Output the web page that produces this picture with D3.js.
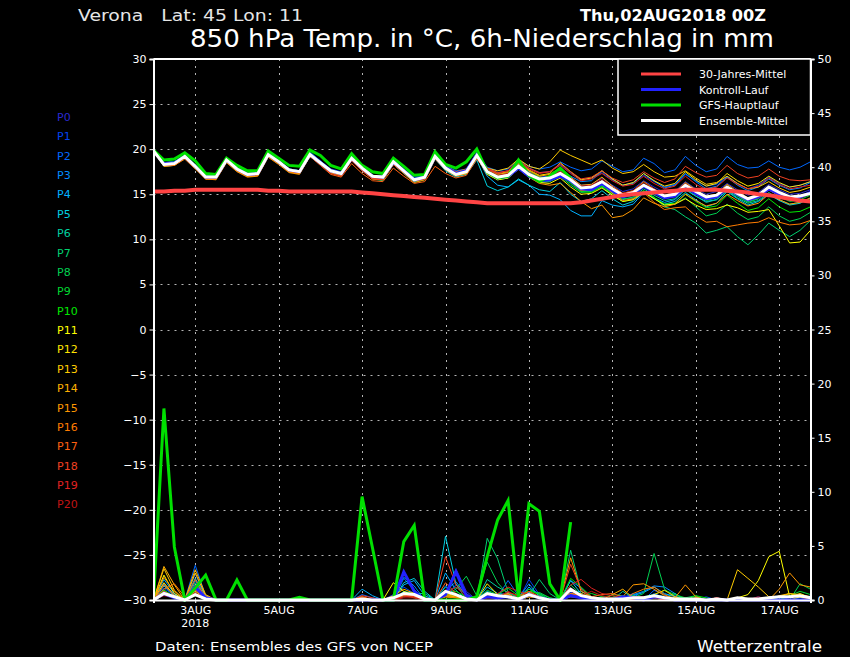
<!DOCTYPE html>
<html><head><meta charset="utf-8">
<script src="https://cdn.jsdelivr.net/npm/d3@7"></script>
<style>
html,body{margin:0;padding:0;background:#000;}
svg{display:block;}
text{font-family:"DejaVu Sans",sans-serif;}
</style></head>
<body>
<svg id="c" width="850" height="657"></svg>
<script>
// ---------------- DATA ----------------
const hours = d3.range(0, 384, 6); // 2AUG2018 00Z + 6h steps
const memberNames = ["P0","P1","P2","P3","P4","P5","P6","P7","P8","P9","P10","P11","P12","P13","P14","P15","P16","P17","P18","P19","P20"];
const memberColors = ["#2a2ad2","#0044f0","#0068ff","#008cff","#00b0ff","#00d0e0","#00d0a0","#00d070","#00d050","#00d830","#00e800","#ffff00","#ffe400","#ffcc00","#ffb000","#ff9800","#ff7c00","#ff6010","#f04020","#e02222","#c01414"];
const xTickHours = [24,72,120,168,216,264,312,360];
const xTickLabels = ["3AUG","5AUG","7AUG","9AUG","11AUG","13AUG","15AUG","17AUG"];
const tempTicks = [-30,-25,-20,-15,-10,-5,0,5,10,15,20,25,30];
const precTicks = [0,5,10,15,20,25,30,35,40,45,50];

// 850 hPa temperature (°C), members
const tP0=[19.9,18.4,18.5,19.1,18.0,16.9,16.8,18.7,17.7,17.1,17.2,19.3,18.5,17.6,17.5,19.3,18.4,17.5,17.2,18.9,17.8,16.9,16.8,18.5,17.5,16.5,16.8,19.1,17.9,17.1,17.4,19.4,17.6,17.0,17.3,18.2,17.3,16.9,17.0,17.6,16.9,16.0,16.1,16.8,16.0,15.3,15.6,16.5,15.8,15.2,15.3,16.4,15.6,15.0,15.3,16.2,15.5,14.9,15.2,16.1,15.5,15.0,15.1,15.5];
const tP1=[19.9,18.5,18.6,19.3,18.2,17.0,17.0,18.9,17.9,17.3,17.4,19.5,18.7,17.8,17.6,19.6,18.7,17.8,17.5,19.3,18.0,17.1,17.0,18.8,17.7,16.8,17.0,19.4,18.1,17.4,17.6,19.5,17.9,17.4,17.6,18.6,17.9,17.4,17.5,18.3,17.4,16.6,16.8,17.4,16.6,16.0,16.3,17.1,16.4,15.8,16.1,17.2,16.5,15.9,16.1,17.0,16.2,15.6,16.0,16.9,16.2,15.8,16.0,16.4];
const tP2=[19.9,18.4,18.5,19.2,18.1,16.9,16.9,18.8,17.9,17.3,17.3,19.5,18.7,17.8,17.6,19.7,18.7,17.7,17.4,19.5,18.1,17.1,17.0,18.7,17.8,16.9,17.0,19.3,18.2,17.6,17.8,19.6,18.0,17.6,17.8,18.8,18.1,17.8,18.0,18.6,18.0,17.6,17.8,18.7,18.1,17.5,17.7,19.0,18.4,17.4,17.7,19.2,18.2,17.5,17.8,19.2,18.3,17.9,18.0,18.7,18.0,17.7,18.0,18.6];
const tP3=[19.9,18.3,18.4,19.3,18.2,17.0,16.9,18.8,17.8,17.2,17.3,19.4,18.6,17.7,17.5,19.5,18.6,17.6,17.3,19.2,18.0,17.0,16.9,18.6,17.6,16.6,16.8,19.2,18.0,17.3,17.6,19.4,17.6,17.1,17.3,18.4,17.5,16.8,17.0,17.8,17.0,16.4,16.5,17.6,16.7,16.0,16.2,17.3,16.5,15.7,16.0,17.3,16.4,15.6,15.9,16.9,16.0,15.4,15.8,16.7,16.0,15.5,15.7,16.3];
const tP4=[19.8,18.1,18.2,19.0,18.0,16.8,16.8,18.6,17.6,17.0,17.1,19.2,18.4,17.5,17.3,19.3,18.3,17.4,17.1,18.9,17.7,16.8,16.7,18.4,17.4,16.4,16.7,19.0,17.7,17.0,17.3,19.2,17.0,16.0,15.8,16.6,16.0,15.0,14.9,14.4,13.2,12.6,12.6,14.3,13.8,13.6,13.9,15.2,14.6,14.1,14.4,15.6,14.8,14.2,14.4,15.4,14.8,14.2,14.5,15.5,14.8,14.3,14.6,15.0];
const tP5=[19.8,18.2,18.3,19.1,18.0,16.8,16.8,18.7,17.7,17.1,17.2,19.3,18.5,17.6,17.4,19.3,18.4,17.5,17.2,18.8,17.8,16.9,16.8,18.5,17.4,16.4,16.7,18.9,17.6,16.9,17.2,18.8,15.9,15.4,15.8,16.7,16.0,15.5,15.3,16.3,15.0,14.2,14.5,15.4,14.5,13.8,14.2,15.3,14.5,13.9,14.2,15.2,14.4,13.6,14.0,15.3,14.5,13.8,14.2,15.0,14.3,13.8,14.0,14.6];
const tP6=[19.9,18.3,18.4,19.2,18.1,16.9,16.9,18.9,17.8,17.2,17.3,19.5,18.6,17.7,17.5,19.4,18.5,17.5,17.2,19.0,17.9,16.9,16.8,18.5,17.5,16.5,16.8,19.1,17.8,17.1,17.4,19.4,17.3,16.6,16.8,17.8,16.9,16.3,16.4,17.2,16.3,15.3,15.4,16.0,15.1,14.4,14.7,15.6,14.9,14.3,14.5,15.5,14.8,14.1,14.4,15.4,14.6,14.0,14.3,15.2,14.4,13.9,14.1,14.5];
const tP7=[19.9,18.5,18.6,19.3,18.2,17.0,17.0,18.9,17.9,17.3,17.4,19.6,18.7,17.8,17.6,19.5,18.5,17.5,17.2,18.9,17.7,16.7,16.5,18.3,17.3,16.3,16.6,19.0,17.8,17.1,17.4,19.6,17.4,16.8,17.0,18.0,17.0,16.5,16.4,17.0,16.0,15.2,15.3,15.8,14.9,14.2,14.5,15.3,14.7,13.6,13.3,12.5,11.8,10.7,11.0,11.4,10.3,9.4,10.5,11.8,11.0,10.3,11.0,12.1];
const tP8=[19.9,18.4,18.5,19.3,18.2,17.0,17.0,18.9,17.9,17.3,17.4,19.5,18.7,17.8,17.6,19.5,18.6,17.7,17.4,19.1,18.0,17.1,17.0,18.8,17.7,16.7,17.0,19.3,18.0,17.3,17.6,19.5,17.6,17.0,17.2,18.3,17.3,16.6,16.7,17.2,16.4,15.4,15.5,16.1,15.2,14.5,14.6,15.4,14.6,13.8,13.9,14.6,13.6,12.6,12.9,13.9,12.9,12.2,12.5,13.6,12.6,12.0,12.3,13.0];
const tP9=[19.9,18.4,18.5,19.3,18.1,17.0,16.9,18.9,17.9,17.2,17.3,19.5,18.6,17.7,17.5,19.5,18.6,17.7,17.4,19.0,17.8,16.9,16.8,18.6,17.6,16.6,16.9,19.2,18.0,17.3,17.6,19.5,17.7,17.1,17.3,18.3,17.4,16.9,16.8,17.2,16.5,15.5,15.6,16.3,15.5,14.8,15.1,16.0,15.3,14.6,14.9,16.0,15.1,14.3,14.6,15.6,14.8,14.1,14.5,15.6,14.8,14.2,14.4,14.9];
const tP10=[19.9,18.5,18.6,19.4,18.3,17.1,17.1,19.0,18.0,17.4,17.5,19.6,18.7,17.8,17.6,19.6,18.6,17.6,17.3,19.2,18.0,17.1,17.0,18.7,17.6,16.6,16.9,19.3,18.0,17.3,17.6,19.7,17.6,17.0,17.2,18.0,17.1,16.6,16.6,17.1,16.2,15.3,15.2,15.9,15.0,14.2,14.4,15.4,14.6,13.9,14.0,15.0,14.2,13.5,13.7,14.9,14.0,13.2,13.5,14.5,13.6,13.0,13.1,13.6];
const tP11=[19.8,18.2,18.3,19.1,18.0,16.8,16.7,18.6,17.6,17.0,17.1,19.2,18.4,17.5,17.3,19.2,18.3,17.4,17.1,18.8,17.7,16.8,16.7,18.4,17.4,16.5,16.7,19.0,17.8,17.1,17.3,19.1,17.2,16.6,16.8,17.8,16.9,16.3,16.2,16.8,15.8,15.0,15.1,15.7,14.9,14.2,14.4,15.2,14.5,13.8,13.9,14.5,13.8,13.3,13.4,13.8,13.5,13.0,13.1,13.3,11.5,9.6,9.7,11.0];
const tP12=[19.8,18.2,18.3,19.1,17.9,16.8,16.8,18.7,17.7,17.1,17.2,19.3,18.5,17.6,17.4,19.3,18.4,17.5,17.2,18.9,17.8,16.9,16.8,18.5,17.5,16.6,16.8,19.1,17.9,17.2,17.5,19.3,17.8,17.3,17.5,18.7,17.7,17.1,17.3,18.5,17.5,16.6,16.8,17.6,16.7,16.0,16.3,17.3,16.5,15.9,16.2,17.5,16.6,15.9,16.2,17.3,16.5,15.9,16.2,17.0,16.3,15.8,16.0,16.4];
const tP13=[19.8,18.2,18.3,19.0,17.9,16.7,16.7,18.6,17.6,17.0,17.1,19.2,18.4,17.5,17.3,19.2,18.4,17.5,17.2,18.9,17.8,16.9,16.8,18.5,17.6,16.6,16.9,19.1,18.0,17.4,17.7,19.4,17.9,17.6,17.9,18.9,18.1,17.8,18.6,19.9,19.3,18.8,18.3,18.8,17.9,17.3,17.5,18.3,17.5,16.9,17.0,17.6,16.8,16.1,16.3,17.0,16.2,15.6,15.8,16.4,15.7,15.2,15.4,15.8];
const tP14=[19.8,18.1,18.2,19.0,17.9,16.7,16.7,18.6,17.6,17.0,17.1,19.2,18.4,17.5,17.3,19.3,18.4,17.5,17.2,18.9,17.8,16.8,16.7,18.5,17.5,16.5,16.8,19.1,17.9,17.2,17.5,19.3,17.8,17.2,17.4,18.5,17.6,17.0,17.2,17.9,16.9,16.0,16.1,16.9,15.9,15.1,15.4,16.4,15.6,14.9,15.2,16.3,15.5,14.8,15.0,16.1,15.3,14.6,14.9,15.9,15.1,14.5,14.7,15.2];
const tP15=[19.8,18.1,18.2,18.9,17.8,16.7,16.6,18.5,17.5,16.9,17.0,19.1,18.3,17.4,17.2,19.2,18.3,17.4,17.1,18.8,17.6,16.7,16.6,18.3,17.3,16.3,16.6,18.9,17.7,17.0,17.3,19.2,17.4,16.8,17.0,17.9,16.9,16.2,16.0,16.2,15.2,14.2,13.4,13.8,12.4,12.6,13.3,14.6,14.0,13.6,13.9,15.0,14.3,13.7,14.0,15.0,14.3,13.7,14.0,15.0,14.4,13.9,14.1,14.6];
const tP16=[19.8,18.2,18.2,19.0,17.9,16.7,16.7,18.6,17.6,17.0,17.1,19.2,18.4,17.5,17.3,19.3,18.4,17.5,17.2,19.0,17.9,16.9,16.8,18.6,17.6,16.6,16.9,19.3,18.1,17.5,17.8,19.4,17.5,16.9,17.1,18.1,17.1,16.5,16.6,17.4,16.4,15.4,15.5,16.2,15.1,14.3,14.5,15.2,14.1,13.3,13.5,13.6,12.6,11.9,12.0,11.4,11.6,11.8,11.9,12.4,11.9,11.6,11.7,12.1];
const tP17=[19.8,18.2,18.3,19.1,18.0,16.8,16.8,18.7,17.7,17.1,17.2,19.3,18.5,17.6,17.4,19.2,18.2,17.2,16.9,18.4,17.3,16.5,16.4,17.9,17.0,16.2,16.4,18.1,17.3,16.8,17.1,18.9,17.5,17.0,17.3,18.4,17.4,16.7,16.8,17.5,16.6,15.7,15.9,16.5,15.5,14.8,15.1,16.0,15.2,14.5,14.8,15.8,15.0,14.4,14.7,15.6,14.9,14.3,14.6,15.5,14.8,14.4,14.6,15.1];
const tP18=[19.9,18.3,18.4,19.1,18.0,16.8,16.8,18.7,17.7,17.1,17.2,19.3,18.5,17.6,17.4,19.3,18.3,17.3,17.0,18.7,17.6,16.7,16.6,18.3,17.4,16.5,16.7,19.0,17.8,17.2,17.5,19.3,17.9,17.4,17.6,18.8,17.9,17.4,17.5,18.4,17.5,16.7,16.9,17.6,16.8,16.3,16.6,17.5,16.8,16.3,16.7,18.1,17.4,16.9,17.1,18.2,17.3,16.8,17.0,17.8,17.0,16.6,16.5,16.6];
const tP19=[19.8,18.2,18.3,19.0,17.9,16.8,16.8,18.7,17.7,17.1,17.2,19.3,18.5,17.6,17.4,19.3,18.4,17.5,17.2,18.9,17.7,16.8,16.7,18.4,17.4,16.5,16.7,19.0,17.8,17.2,17.5,19.3,17.8,17.3,17.6,18.7,17.8,17.3,17.5,18.2,17.3,16.5,16.7,17.3,16.5,15.9,16.1,17.0,16.2,15.6,15.9,17.0,16.1,15.5,15.8,16.8,16.1,15.6,15.9,16.8,16.1,15.6,15.8,16.0];
const tP20=[19.8,18.3,18.4,19.1,18.0,16.9,16.9,18.8,17.8,17.2,17.3,19.4,18.6,17.7,17.5,19.4,18.5,17.6,17.3,19.0,17.8,16.9,16.8,18.6,17.6,16.6,16.9,19.2,18.0,17.3,17.6,19.4,17.7,17.1,17.3,18.2,17.3,16.7,16.8,17.6,16.8,15.9,16.0,16.7,15.8,15.1,15.4,16.3,15.6,14.9,15.2,16.2,15.4,14.7,15.0,15.9,15.2,14.6,14.8,15.6,14.9,14.4,14.6,15.0];
// control run, GFS main run (to +240h), ensemble mean, 30-year mean
const tControl=[19.9,18.4,18.5,19.2,18.1,16.9,16.9,18.8,17.8,17.2,17.3,19.4,18.6,17.7,17.5,19.4,18.5,17.6,17.3,19.0,17.9,17.0,16.9,18.6,17.6,16.6,16.9,19.2,18.0,17.3,17.6,19.4,17.5,16.8,17.0,17.9,17.0,16.5,16.6,17.0,16.5,15.6,15.5,16.2,15.4,14.7,15.0,15.9,15.2,14.6,14.8,15.8,15.1,14.5,14.7,15.7,15.0,14.4,14.7,15.6,15.0,14.5,14.7,15.2];
const tGFS=[19.9,18.8,18.9,19.6,18.7,17.3,17.2,19.0,18.2,17.6,17.6,19.8,19.0,18.2,18.1,19.9,19.3,18.2,17.8,19.5,18.2,17.5,17.3,19.0,18.1,17.1,17.2,19.7,18.3,17.9,18.6,20.0,17.5,16.8,17.0,18.8,17.1,16.4,17.0,17.9,16.8];
const tMean=[19.8,18.3,18.4,19.2,18.1,16.9,16.9,18.8,17.8,17.2,17.3,19.4,18.6,17.7,17.5,19.4,18.5,17.6,17.3,19.0,17.9,17.0,16.9,18.6,17.6,16.6,16.9,19.2,17.9,17.2,17.5,19.3,17.5,16.9,17.1,18.1,17.2,16.7,16.8,17.3,16.6,15.7,15.8,16.4,15.6,14.9,15.2,16.0,15.4,14.8,15.0,16.0,15.3,14.7,14.9,15.8,15.1,14.5,14.9,15.8,15.2,14.7,14.8,15.1];
const tClim=[15.3,15.3,15.4,15.4,15.5,15.5,15.5,15.5,15.5,15.5,15.5,15.4,15.4,15.3,15.3,15.3,15.3,15.3,15.3,15.3,15.2,15.1,15.0,14.9,14.8,14.7,14.6,14.5,14.4,14.3,14.2,14.1,14.0,14.0,14.0,14.0,14.0,14.0,14.0,14.0,14.0,14.1,14.3,14.5,14.7,14.9,15.0,15.1,15.2,15.3,15.4,15.5,15.5,15.5,15.5,15.4,15.3,15.2,15.0,14.9,14.7,14.5,14.3,14.2];

// 6h precipitation (mm), members
const pP0=[0,0.8,0.2,0,1.0,0.2,0,0, 0,0,0,0,0,0,0,0, 0,0,0,0,0.2,0,0,0.5, 2.6,1.0,0,0,0.6,2.9,0.8,0, 0.3,0,0.4,0,0.6,0.2,0,0, 0.8,0.5,0,0.3,0,0,0.2,0, 0.3,0,0,0.2,0,0,0.2,0, 0,0,0.3,0,0,0.2,0,0];
const pP1=[0,1.1,0.4,0,2.4,0.3,0,0, 0,0,0,0,0,0,0,0, 0,0,0,0,0,0,0,0.3, 1.2,0.6,0,0,0.4,1.4,0.6,0, 0.4,0.2,0.8,0,1.9,0.5,0,0, 0.5,0.4,0,0,0.2,0,0,0, 0.6,0.2,0,0,0,0.3,0,0, 0,0,0,0.2,0,0,0.3,0];
const pP2=[0,0.6,0.2,0,3.2,0.4,0,0, 0,0,0,0,0,0,0,0, 0,0,0,0,0.5,0.2,0,0, 2.0,0.9,0,0,1.3,0.5,0,0, 0.5,0.3,1.8,0.4,1.0,0.6,0,0, 0.7,0.8,0.3,0,0,0.2,0.6,0, 0.9,0.5,0.4,0,0,0,0.2,0, 0,0,0,0,0.2,0,0,0.4];
const pP3=[0,1.5,0.5,0,1.8,0.2,0,0, 0,0,0,0,0,0,0,0, 0,0,0,0,0,0,0,0.4, 2.1,1.3,0,0,0.8,1.7,0.4,0, 0.6,0.3,0.4,0.2,1.5,0.3,0,0, 1.8,1.1,0.3,0,0,0,0.5,0.8, 1.3,1.2,0.6,0,0,0,0,0, 0.2,0,0,0,0,0,0.2,0];
const pP4=[0,1.9,0.6,0,1.3,0.3,0,0, 0,0,0,0,0,0,0,0, 0,0,0,0,1.0,0.4,0,0, 1.4,1.8,0.4,0,2.5,0.9,0,0, 0.8,0.4,0.6,0,1.2,0.4,0,0, 0.9,0.5,0,0,0,0,0.4,0.7, 1.2,0.6,0.3,0,0,0,0,0, 0,0,0,0,0,0,0,0];
const pP5=[0,1.3,0.4,0,2.0,0.4,0,0, 0,0,0,0,0,0,0,0, 0,0,0,0,0,0,0,0, 1.6,2.0,0.8,0,5.9,1.5,0,0, 1.2,0.6,0.5,0,0.7,0.3,0,0, 1.8,0.6,0.2,0,0,0,0,0, 0.5,0.3,0,0,0,0,0,0, 0,0,0,0,0,0,0,0];
const pP6=[0,0.9,0.3,0,1.6,0.3,0,0, 0,0,0,0,0,0,0,0, 0,0,0,0,0,0,0,0, 0.8,0.6,0.6,0,1.2,0.5,0,0, 1.9,1.2,0.7,0.3,0.5,0.4,0,0, 0.6,0.5,0.3,0,0,0.8,0.2,0, 0.4,0.2,0.6,0,0,0,0,0, 0,0,0,0,0,0,0,0.3];
const pP7=[0,0.7,0.2,0,0.9,0.2,0,0, 0,0,0,0,0,0,0,0, 0,0,0,0,0,0,0,0, 0.5,0.4,0,0,0.6,1.2,0.5,0, 5.7,3.8,0.7,0.2,0.4,1.9,0.6,0, 4.6,0.8,0.3,0,0.2,0,0,0, 0.3,0.2,0,0,0,0,0,0, 0,0,0,0,0,0,0,0];
const pP8=[0,0.5,0.2,0,0.8,0.2,0,0, 0,0,0,0,0,0,0,0, 0,0,0,0,0,0,0,0, 0.3,0.5,0,0,0.4,1.0,2.2,0.4, 3.5,1.6,0.5,0,0.3,0.7,0.2,0, 1.4,0.5,0.2,0,0.5,0.4,0.2,0.6, 4.3,1.0,0.3,0.2,0.4,0,0,0, 0,0,0,0,0,0,1.5,1.0];
const pP9=[0,0.6,0.2,0,0.6,0.1,0,0, 0,0,0,0,0,0,0,0, 0,0,0,0,0,0,0,0, 0.4,0.3,0,0,0.3,0.5,0,0, 0.9,0.5,1.1,0.4,0.8,0.6,0.2,0, 1.0,0.4,0.6,0.3,0.4,0,0,0.3, 0.5,0.9,0.5,0.2,0,0,0,0, 0.2,0,0,0,0,0.4,0.8,0.5];
const pP10=[0,0.9,0.3,0,0.4,0.1,0,0, 0,0,0,0,0,0,0,0, 0,0,0,0,0,0,0,0, 0.6,0.7,0.2,0,0.5,0.8,0.3,0, 0.7,0.4,0.3,0.2,1.0,0.5,0,0, 2.0,1.2,0.3,0,0,0,0.4,0, 0.3,0,0,0,0.4,0.2,0,0, 0,0,0,0,0.3,0.6,0.4,0.2];
const pP11=[0,2.3,0.6,0,1.1,0.2,0,0, 0,0,0,0,0,0,0,0, 0,0,0,0,0,0,0,1.6, 0.8,0.4,0,0,0.4,0.3,0,0, 1.5,0.5,0.2,0,0.3,0.2,0,0, 0.4,0.2,0,0,0,0,0,0, 0.2,0,0,0,0,0,0,0, 0.2,0.5,1.8,4.0,4.5,0.3,0.6,0.2];
const pP12=[0,1.6,0.4,0,0.8,0.2,0,0, 0,0,0,0,0,0,0,0, 0,0,0,0,0,0,0,0, 0.6,0.3,0,0,0.6,0.4,0,0, 0.4,0.2,0.3,0,0.5,0.2,0,0, 0.3,0.2,0,0.2,0,0,0,0, 0.4,0.2,0,0,0,0,0,0, 0,0,0,0,0,0,0.3,0];
const pP13=[0,2.9,0.9,0,2.5,0.4,0,0, 0,0,0,0,0,0,0,0, 0,0,0,0,0,0,0,0, 0.5,0.4,0,0,0.3,0.2,0,0, 0.3,0.2,0.5,0,0.4,0.2,0,0, 0.6,0.4,0,0,0,0,0,0, 0.5,0.9,0.3,0,0.2,0,0,0, 2.8,2.0,1.2,0.3,0.3,0.6,0.3,0];
const pP14=[0,3.1,1.4,0,2.8,0.5,0,0, 0,0,0,0,0,0,0,0, 0,0,0,0,0,0,0,0.4, 1.0,0.6,0,0,0.8,0.5,0,0, 0.4,0.3,0.6,0,0.6,0.3,0,0, 0.4,0.6,0.2,0,0.5,1.0,0.2,0, 0.4,0.2,0,0,0,0,0,0, 0,0,0,0,0.4,0.6,0.5,0.3];
const pP15=[0,2.1,0.8,0,1.4,0.3,0,0, 0,0,0,0,0,0,0,0, 0,0,0,0,0.3,0,0,0, 0.6,0.4,0,0,0.5,0.3,0,0, 0.6,0.3,0.4,0.2,0.8,0.3,0,0, 3.9,0.8,0.3,0,0,0.3,1.4,1.5, 1.0,0.4,0.2,1.4,0.3,0,0,0, 0,0,0,0,1.0,2.5,1.4,1.2];
const pP16=[0,1.0,1.5,0.3,1.0,0.2,0,0, 0,0,0,0,0,0,0,0, 0,0,0,0,0,0,0,0, 0.4,0.2,0,0,0.3,0.2,0,0, 0.2,0.2,0.3,0,0.3,0.2,0,0, 0.5,0.3,0,0,0,0,0.6,1.0, 1.2,0.5,0,0,0,0,0,0, 0,0,0,0,0,0,0,0];
const pP17=[0,1.4,0.4,0,1.9,0.2,0,0, 0,0,0,0,0,0,0,0, 0,0,0,0,0.3,0,0,0, 0.4,0.3,0,0,1.6,0.6,0,0, 0.3,0.2,0.5,0,0.6,0.3,0,0, 0.6,0.4,0.3,0.5,0.6,0.3,0,0, 0.3,0,0,0,0,0,0.2,0, 0,0,0,0,0,0,0,0];
const pP18=[0,0.8,0.3,0,0.9,0.2,0,0, 0,0,0,0,0,0,0,0, 0,0,0,0,0.4,0.2,0,0, 0.5,0.3,0,0,4.0,1.4,0.5,0, 0.4,0.3,0.7,0.4,0.8,0.3,0,0, 3.3,1.0,0.3,0,0,0,0.3,0, 0.4,0.2,0,0,0,0,0.2,0, 0,0,0,0,0,0,0,0.3];
const pP19=[0,0.5,0.2,0,0.7,0.1,0,0, 0,0,0,0,0,0,0,0, 0,0,0,0,0,0,0,0, 0.3,0.4,0,0,0.9,0.5,0,0, 0.2,0.6,1.2,0.8,0.5,0.2,0,0, 1.4,1.9,1.1,0.6,0.4,0.2,0.3,0.3, 0.2,0,0,0,0,0,0,0, 0,0,0,0,0,0,0,0];
const pP20=[0,0.4,0.2,0,0.5,0.1,0,0, 0,0,0,0,0,0,0,0, 0,0,0,0,0,0,0,0, 0.2,0.2,0,0,0.6,1.2,0.3,0, 0.2,0.2,0.8,0.3,0.4,0.2,0,0, 0.8,0.4,0.8,0.4,0.2,0,0,0, 0.3,0.2,0,0,0,0,0,0, 0.2,0,0.3,0,0,0,0,0];
const pControl=[0,0.6,0.2,0,1.2,0.2,0,0, 0,0,0,0,0,0,0,0, 0,0,0,0,0,0,0,0, 2.6,0.8,0,0,0.5,2.6,0.4,0, 0.3,0.2,0.3,0,0.5,0.2,0,0, 0.4,0.2,0,0,0,0.3,0.2,0, 0.3,0.2,0,0,0,0,0,0, 0,0,0,0,0,0,0,0];
const pGFS=[0,17.7,4.9,0,1.1,2.3,0,0, 1.85,0,0,0,0,0,0.25,0, 0,0,0,0,9.55,4.8,0,0, 5.4,6.9,0,0,0,0,0,0.3, 4.0,7.4,9.2,0.2,8.9,8.2,1.5,0, 7.2];
const pMean=[0,0.6,0.3,0,0.5,0.1,0,0, 0,0,0,0,0,0,0,0, 0,0,0,0,0.1,0,0,0.2, 0.6,0.5,0.1,0,0.8,0.5,0.1,0, 0.6,0.4,0.3,0.1,0.5,0.2,0,0, 1.0,0.4,0.2,0.1,0.1,0.1,0.2,0.2, 0.4,0.2,0.1,0.1,0.1,0,0.1,0, 0.2,0.1,0.1,0.2,0.3,0.3,0.4,0.2];

const memberTemps=[tP0,tP1,tP2,tP3,tP4,tP5,tP6,tP7,tP8,tP9,tP10,tP11,tP12,tP13,tP14,tP15,tP16,tP17,tP18,tP19,tP20];
const memberPrecs=[pP0,pP1,pP2,pP3,pP4,pP5,pP6,pP7,pP8,pP9,pP10,pP11,pP12,pP13,pP14,pP15,pP16,pP17,pP18,pP19,pP20];

const legendLabels=["30-Jahres-Mittel","Kontroll-Lauf","GFS-Hauptlauf","Ensemble-Mittel"];
const legendColors=["#ff4444","#2222ff","#00e000","#ffffff"];

// ---------------- CHART ----------------
const svg=d3.select("#c");
const L=153.5, R=810.5, T=59, B=600;
const x=d3.scaleLinear().domain([0,378]).range([L,R]);
const yT=d3.scaleLinear().domain([-30,30]).range([B,T]);
const yP=d3.scaleLinear().domain([0,50]).range([B,T]);

svg.append("rect").attr("width",850).attr("height",657).attr("fill","#000");

// grid
const grid=svg.append("g").attr("stroke","#b4b4b4").attr("stroke-width",1).attr("stroke-dasharray","2,5");
tempTicks.filter(v=>v>-30&&v<30).forEach(v=>{
  grid.append("line").attr("x1",L).attr("x2",R).attr("y1",Math.round(yT(v))+0.5).attr("y2",Math.round(yT(v))+0.5);
});
xTickHours.forEach(h=>{
  grid.append("line").attr("x1",Math.round(x(h))+0.5).attr("x2",Math.round(x(h))+0.5).attr("y1",T).attr("y2",B);
});

const clip=svg.append("defs").append("clipPath").attr("id","pc").append("rect")
  .attr("x",L).attr("y",T).attr("width",R-L).attr("height",B-T+2);
const plot=svg.append("g").attr("clip-path","url(#pc)");

const lineT=d3.line().x((d,i)=>x(hours[i])).y(d=>yT(d));
const lineP=d3.line().x((d,i)=>x(hours[i])).y(d=>yP(d));

// members: precip then temp
memberPrecs.forEach((p,k)=>{
  plot.append("path").attr("d",lineP(p)).attr("fill","none").attr("stroke",memberColors[k]).attr("stroke-width",1);
});
memberTemps.forEach((t,k)=>{
  plot.append("path").attr("d",lineT(t)).attr("fill","none").attr("stroke",memberColors[k]).attr("stroke-width",1);
});
// control
plot.append("path").attr("d",lineP(pControl)).attr("fill","none").attr("stroke","#2222ff").attr("stroke-width",3);
plot.append("path").attr("d",lineT(tControl)).attr("fill","none").attr("stroke","#2222ff").attr("stroke-width",3);
// GFS
plot.append("path").attr("d",lineP(pGFS)).attr("fill","none").attr("stroke","#00e000").attr("stroke-width",3);
plot.append("path").attr("d",lineT(tGFS)).attr("fill","none").attr("stroke","#00e000").attr("stroke-width",3);
// mean
plot.append("path").attr("d",lineP(pMean)).attr("fill","none").attr("stroke","#ffffff").attr("stroke-width",3);
plot.append("path").attr("d",lineT(tMean)).attr("fill","none").attr("stroke","#ffffff").attr("stroke-width",3);
// climatology
plot.append("path").attr("d",lineT(tClim)).attr("fill","none").attr("stroke","#ff4444").attr("stroke-width",4);

// axes
const axL=svg.append("g").attr("transform",`translate(${L},0)`)
  .call(d3.axisLeft(yT).tickValues(tempTicks).tickSize(4).tickPadding(3));
const axR=svg.append("g").attr("transform",`translate(${R},0)`)
  .call(d3.axisRight(yP).tickValues(precTicks).tickSize(4).tickPadding(3));
const axB=svg.append("g").attr("transform",`translate(0,${B})`)
  .call(d3.axisBottom(x).tickValues(xTickHours).tickFormat((d,i)=>xTickLabels[i]).tickSize(3).tickPadding(3));
[axL,axR,axB].forEach(a=>{
  a.select(".domain").attr("stroke","#fff").attr("stroke-width",2);
  a.selectAll(".tick line").attr("stroke","#fff");
  a.selectAll("text").attr("fill","#fff").attr("font-size",11).attr("font-family","DejaVu Sans, sans-serif");
});
svg.append("line").attr("x1",L).attr("x2",R).attr("y1",T).attr("y2",T).attr("stroke","#fff").attr("stroke-width",2);
svg.append("text").attr("x",x(24)).attr("y",627).attr("text-anchor","middle").attr("fill","#fff").attr("font-size",11).text("2018");

// legend
const lg=svg.append("g");
lg.append("rect").attr("x",618).attr("y",59).attr("width",192.5).attr("height",76).attr("fill","#000").attr("stroke","#fff").attr("stroke-width",1.5);
legendLabels.forEach((lab,i)=>{
  const yy=74+i*15.5;
  lg.append("line").attr("x1",641).attr("x2",681).attr("y1",yy).attr("y2",yy).attr("stroke",legendColors[i]).attr("stroke-width",3);
  lg.append("text").attr("x",699).attr("y",yy+4).attr("fill","#fff").attr("font-size",11).text(lab);
});

// member labels
memberNames.forEach((n,k)=>{
  svg.append("text").attr("x",57).attr("y",117+k*19.37+4).attr("fill",memberColors[k]).attr("font-size",11).text(n);
});

// titles
svg.append("text").attr("x",78).attr("y",21).attr("fill","#e6e6e6").attr("font-size",15)
  .style("white-space","pre").attr("textLength",225).attr("lengthAdjust","spacingAndGlyphs").text("Verona   Lat: 45 Lon: 11");
svg.append("text").attr("x",580).attr("y",21).attr("fill","#fff").attr("font-size",15).attr("font-weight","bold")
  .attr("textLength",186).attr("lengthAdjust","spacingAndGlyphs").text("Thu,02AUG2018 00Z");
svg.append("text").attr("x",190).attr("y",47).attr("fill","#fff").attr("font-size",24)
  .attr("textLength",584).attr("lengthAdjust","spacingAndGlyphs").text("850 hPa Temp. in °C, 6h-Niederschlag in mm");
svg.append("text").attr("x",155).attr("y",651).attr("fill","#fff").attr("font-size",12)
  .attr("textLength",278).attr("lengthAdjust","spacingAndGlyphs").text("Daten: Ensembles des GFS von NCEP");
svg.append("text").attr("x",697).attr("y",652).attr("fill","#fff").attr("font-size",15)
  .attr("textLength",125).attr("lengthAdjust","spacingAndGlyphs").text("Wetterzentrale");
</script>
</body></html>
